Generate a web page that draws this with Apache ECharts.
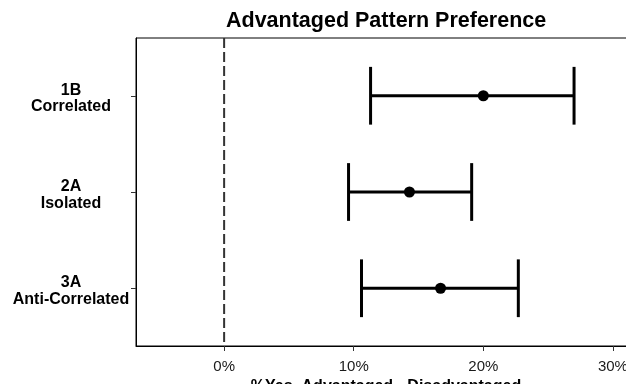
<!DOCTYPE html>
<html>
<head>
<meta charset="utf-8">
<script src="https://cdn.jsdelivr.net/npm/echarts@6/dist/echarts.min.js"></script>
<style>
  html, body { margin: 0; padding: 0; background: #fff; }
  #chart { width: 626px; height: 384px; }
</style>
</head>
<body>
<div id="chart"></div>
<script>
// conditions, top to bottom
const categories = ["1B\nCorrelated", "2A\nIsolated", "3A\nAnti-Correlated"];
const estimates = [20.0, 14.3, 16.7];
const lower = [11.3, 9.6, 10.6];
const upper = [27.0, 19.1, 22.7];
const xTicks = [0, 10, 20, 30];
const refValue = 0;

const chart = echarts.init(document.getElementById("chart"), null, { renderer: "canvas" });

const yMin = 0.4, yMax = 3.6;
const pos = categories.map((c, i) => i + 1);
const barData = pos.map((p, i) => [lower[i], upper[i], p]);
const pointData = pos.map((p, i) => [estimates[i], p]);

const font = "'Liberation Sans', Arial, sans-serif";

chart.setOption({
  animation: false,
  title: {
    text: "Advantaged Pattern Preference",
    left: 226,
    top: 10,
    padding: 0,
    textStyle: { fontFamily: font, fontSize: 21.5, fontWeight: "bold", color: "#000" }
  },
  grid: {
    left: 136, right: -10, top: 38, bottom: 38,
    outerBoundsMode: "none",
    show: true, borderColor: "#000", borderWidth: 1, backgroundColor: "#fff"
  },
  xAxis: {
    type: "value",
    min: -6.8,
    max: 31.78,
    name: "%Yes, Advantaged - Disadvantaged",
    nameLocation: "middle",
    nameGap: 33,
    nameTextStyle: { fontFamily: font, fontSize: 16, fontWeight: "bold", color: "#000" },
    axisLine: { show: true, onZero: false, lineStyle: { color: "#000", width: 1 } },
    axisTick: { show: true, length: 5, customValues: xTicks, lineStyle: { color: "#333" } },
    axisLabel: {
      customValues: xTicks,
      formatter: v => v + "%",
      fontFamily: font, fontSize: 15, color: "#1a1a1a", margin: 13
    },
    splitLine: { show: false }
  },
  yAxis: {
    type: "value",
    inverse: true,
    min: yMin,
    max: yMax,
    axisLine: { show: true, onZero: false, lineStyle: { color: "#000", width: 1 } },
    axisTick: { show: true, length: 5, customValues: pos, lineStyle: { color: "#333" } },
    axisLabel: {
      customValues: pos,
      formatter: v => "{g|}\n" + (categories[Math.round(v) - 1] || ""),
      fontFamily: font, fontSize: 16, fontWeight: "bold", color: "#000",
      align: "center", margin: 65, lineHeight: 16.5,
      rich: { g: { height: 6, lineHeight: 6, fontSize: 1 } }
    },
    splitLine: { show: false }
  },
  series: [
    {
      type: "line",
      data: [[refValue, yMin], [refValue, yMax]],
      symbol: "none",
      silent: true,
      lineStyle: { color: "#333", width: 2, type: [10, 4] },
      z: 1
    },
    {
      type: "custom",
      data: barData,
      encode: { x: [0, 1], y: 2 },
      renderItem: function (params, api) {
        const lo = api.coord([api.value(0), api.value(2)]);
        const hi = api.coord([api.value(1), api.value(2)]);
        const h = api.size([0, 0.6])[1] / 2;
        const style = { stroke: "#000", lineWidth: 3, fill: null };
        return {
          type: "group",
          children: [
            { type: "line", shape: { x1: lo[0], y1: lo[1], x2: hi[0], y2: hi[1] }, style },
            { type: "line", shape: { x1: lo[0], y1: lo[1] - h, x2: lo[0], y2: lo[1] + h }, style },
            { type: "line", shape: { x1: hi[0], y1: hi[1] - h, x2: hi[0], y2: hi[1] + h }, style }
          ]
        };
      },
      z: 2
    },
    {
      type: "scatter",
      data: pointData,
      symbolSize: 11,
      itemStyle: { color: "#000", opacity: 1 },
      z: 3
    }
  ]
});
</script>
</body>
</html>
